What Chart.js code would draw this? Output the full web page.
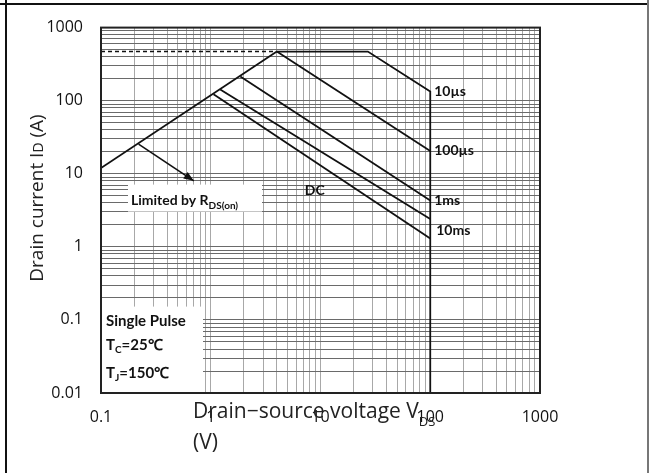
<!DOCTYPE html>
<html>
<head>
<meta charset="utf-8">
<script src="https://cdn.jsdelivr.net/npm/chart.js@4.4.0/dist/chart.umd.min.js"></script>
<style>
  body { margin: 0; background: #fff; }
  canvas { display: block; }
</style>
</head>
<body>
<canvas id="soa" width="651" height="473"></canvas>
<script>
// valores (área de operação segura)
var xTickLabels = ["0.1", "1", "10", "100", "1000"];
var yTickLabels = ["0.01", "0.1", "1", "10", "100", "1000"];

var rdsV = [0.1, 4.0];
var rdsI = [12, 470];
var limitV = [0.1, 4.0];
var limitI = [470, 470];
var us10V = [4.0, 27, 100, 100];
var us10I = [470, 470, 134, 0.01];
var us100V = [4.0, 100];
var us100I = [470, 20.5];
var ms1V = [1.86, 100];
var ms1I = [215, 4.3];
var ms10V = [1.22, 100];
var ms10I = [142, 2.4];
var dcV = [1.06, 100];
var dcI = [122, 1.3];
var arrowV = [0.22, 0.7];
var arrowI = [25.5, 8];

function pts(xs, ys) {
  return xs.map(function (x, i) { return { x: x, y: ys[i] }; });
}

// 1..9 por década, para as linhas de grade
function logTicks(labels) {
  var lo = parseFloat(labels[0]), hi = parseFloat(labels[labels.length - 1]);
  var out = [];
  for (var d = lo; d < hi * 0.999; d *= 10) {
    for (var k = 1; k < 10; k++) out.push({ value: d * k });
  }
  out.push({ value: hi });
  return out;
}

function isMajor(v) {
  var l = Math.log10(v);
  return Math.abs(l - Math.round(l)) < 1e-6;
}

function line(data, extra) {
  var ds = { data: data, borderColor: "#111", borderWidth: 1.8, fill: false, pointRadius: 0 };
  for (var k in extra) ds[k] = extra[k];
  return ds;
}

// texto com partes (subscritos)
function rich(ctx, x, y, parts) {
  parts.forEach(function (p) {
    ctx.font = p.font;
    ctx.fillText(p.t, x, y + (p.dy || 0));
    x += ctx.measureText(p.t).width;
  });
  return x;
}

var decor = {
  id: "decor",
  beforeDraw: function (chart) {
    var ctx = chart.ctx;
    ctx.save();
    ctx.fillStyle = "#fff";
    ctx.fillRect(0, 0, chart.width, chart.height);
    ctx.restore();
  },
  afterDatasetsDraw: function (chart) {
    var ctx = chart.ctx, ca = chart.chartArea;
    var xs = chart.scales.x, ys = chart.scales.y;
    ctx.save();

    // seta "Limited by RDS(on)"
    var p0 = { x: xs.getPixelForValue(arrowV[0]), y: ys.getPixelForValue(arrowI[0]) };
    var p1 = { x: xs.getPixelForValue(arrowV[1]), y: ys.getPixelForValue(arrowI[1]) };
    var a = Math.atan2(p1.y - p0.y, p1.x - p0.x);
    ctx.fillStyle = "#111";
    ctx.beginPath();
    ctx.moveTo(p1.x, p1.y);
    ctx.lineTo(p1.x - 10 * Math.cos(a) + 4 * Math.sin(a), p1.y - 10 * Math.sin(a) - 4 * Math.cos(a));
    ctx.lineTo(p1.x - 10 * Math.cos(a) - 4 * Math.sin(a), p1.y - 10 * Math.sin(a) + 4 * Math.cos(a));
    ctx.closePath();
    ctx.fill();

    // caixas brancas
    ctx.fillStyle = "#fff";
    ctx.fillRect(ca.left + 27, ca.top + 157, 134, 27);
    ctx.fillRect(ca.left + 1, ca.top + 279, 101, ca.bottom - ca.top - 279);

    ctx.fillStyle = "#111";
    ctx.textBaseline = "alphabetic";
    var b14 = "bold 14px Lato", b15 = "bold 15px Lato", s10 = "bold 10px Lato";
    rich(ctx, ca.left + 30, ca.top + 177, [
      { t: "Limited by R", font: b14 },
      { t: "DS(on)", font: s10, dy: 4 }
    ]);
    rich(ctx, ca.left + 5, ca.top + 298, [{ t: "Single Pulse", font: b15 }]);
    rich(ctx, ca.left + 5, ca.top + 322, [
      { t: "T", font: b15 }, { t: "C", font: s10, dy: 3 }, { t: "=25\u2103", font: b15 }
    ]);
    rich(ctx, ca.left + 5, ca.top + 350, [
      { t: "T", font: b15 }, { t: "J", font: s10, dy: 3 }, { t: "=150\u2103", font: b15 }
    ]);

    // rótulos das curvas
    ctx.textBaseline = "middle";
    ctx.font = b14;
    var xr = xs.getPixelForValue(100) + 4;
    ctx.fillText("10\u00b5s", xr, ys.getPixelForValue(134));
    ctx.fillText("100\u00b5s", xr, ys.getPixelForValue(20.5));
    ctx.fillText("1ms", xr, ys.getPixelForValue(4.3));
    ctx.fillText("10ms", xr + 2, ys.getPixelForValue(1.7));
    ctx.fillText("DC", xs.getPixelForValue(7.2), ys.getPixelForValue(5.9));

    // moldura da área do gráfico
    ctx.strokeStyle = "#222";
    ctx.lineWidth = 2;
    ctx.strokeRect(ca.left, ca.top, ca.right - ca.left, ca.bottom - ca.top);
    ctx.restore();
  },
  afterDraw: function (chart) {
    var ctx = chart.ctx;
    ctx.save();
    // bordas da célula
    ctx.strokeStyle = "#111";
    ctx.lineWidth = 2;
    ctx.beginPath();
    ctx.moveTo(0, 4); ctx.lineTo(649, 4);
    ctx.moveTo(6, 0); ctx.lineTo(6, 473);
    ctx.stroke();
    ctx.strokeStyle = "#777";
    ctx.beginPath();
    ctx.moveTo(648, 0); ctx.lineTo(648, 473);
    ctx.stroke();

    // títulos dos eixos
    ctx.fillStyle = "#222";
    ctx.textBaseline = "alphabetic";
    var f = "21px 'Open Sans'", fs = "13px 'Open Sans'";
    rich(ctx, 193, 418, [
      { t: "Drain\u2212source voltage V", font: f },
      { t: "DS", font: fs, dy: 8 }
    ]);
    rich(ctx, 193, 449, [{ t: "(V)", font: f }]);

    var fy = "19px 'Open Sans'";
    ctx.translate(43, 198);
    ctx.rotate(-Math.PI / 2);
    var parts = [
      { t: "Drain current I", font: fy },
      { t: "D", font: "14px 'Open Sans'" },
      { t: " (A)", font: fy }
    ];
    var w = 0;
    parts.forEach(function (p) { ctx.font = p.font; w += ctx.measureText(p.t).width; });
    rich(ctx, -w / 2, 0, parts);
    ctx.restore();
  }
};

var ctx = document.getElementById("soa").getContext("2d");
new Chart(ctx, {
  type: "line",
  data: {
    datasets: [
      line(pts(rdsV, rdsI)),
      line(pts(limitV, limitI), { borderDash: [4, 3], borderWidth: 1.6 }),
      line(pts(us10V, us10I)),
      line(pts(us100V, us100I)),
      line(pts(ms1V, ms1I)),
      line(pts(ms10V, ms10I)),
      line(pts(dcV, dcI)),
      line(pts(arrowV, arrowI), { borderWidth: 1.6 })
    ]
  },
  options: {
    responsive: false,
    devicePixelRatio: 1,
    animation: false,
    layout: { padding: { left: 0, right: 111, top: 26, bottom: 0 } },
    plugins: { legend: { display: false }, tooltip: { enabled: false } },
    elements: { line: { tension: 0 } },
    scales: {
      x: {
        type: "logarithmic",
        min: parseFloat(xTickLabels[0]),
        max: parseFloat(xTickLabels[xTickLabels.length - 1]),
        afterBuildTicks: function (s) { s.ticks = logTicks(xTickLabels); },
        afterFit: function (s) { s.height = 80; },
        border: { display: false },
        grid: { color: "#a8a8a8", lineWidth: 1, drawTicks: false },
        ticks: {
          autoSkip: false,
          maxRotation: 0,
          padding: 15,
          color: "#111",
          font: { family: "'Open Sans'", size: 16 },
          callback: function (v) {
            if (!isMajor(v)) return "";
            return xTickLabels.find(function (l) { return Math.abs(parseFloat(l) / v - 1) < 1e-6; });
          }
        }
      },
      y: {
        type: "logarithmic",
        min: parseFloat(yTickLabels[0]),
        max: parseFloat(yTickLabels[yTickLabels.length - 1]),
        afterBuildTicks: function (s) { s.ticks = logTicks(yTickLabels); },
        afterFit: function (s) { s.width = 101; },
        border: { display: false },
        grid: { color: "#6a6a6a", lineWidth: 1, drawTicks: false },
        ticks: {
          autoSkip: false,
          padding: 18,
          color: "#111",
          font: { family: "'Open Sans'", size: 16 },
          callback: function (v) {
            if (!isMajor(v)) return "";
            return yTickLabels.find(function (l) { return Math.abs(parseFloat(l) / v - 1) < 1e-6; });
          }
        }
      }
    }
  },
  plugins: [decor]
});
</script>
</body>
</html>
